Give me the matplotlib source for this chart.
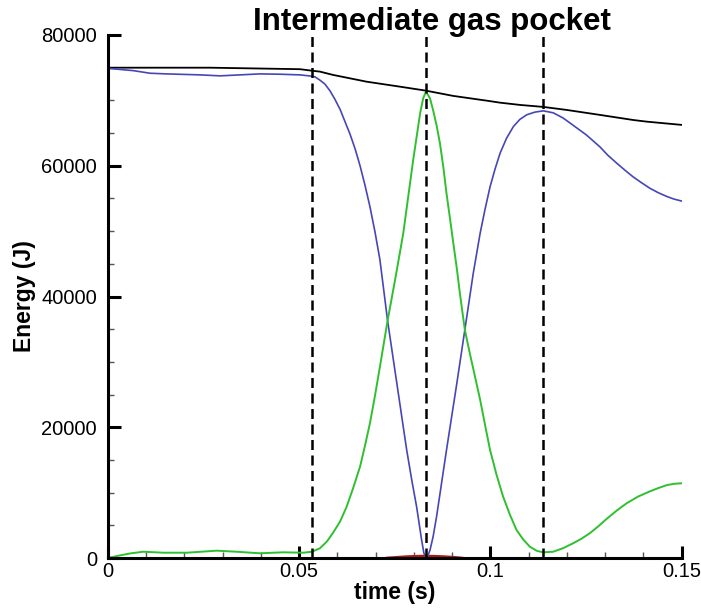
import numpy as np
import matplotlib
matplotlib.use("Agg")
import matplotlib.pyplot as plt
from matplotlib.ticker import MultipleLocator, FuncFormatter

plt.rcParams['font.family'] = ['Liberation Sans', 'DejaVu Sans']

# time (s) and energy (J) for each curve
t_total = [0, 0.0267, 0.0502, 0.0533, 0.0554, 0.0588, 0.0676, 0.0763, 0.0831,
           0.0903, 0.0991, 0.1025, 0.1078, 0.1138, 0.1199, 0.1286, 0.1373, 0.1408, 0.15]
e_total = [75000, 75000, 74770, 74540, 74400, 73900, 72860, 72100, 71490,
           70680, 69950, 69650, 69300, 69000, 68540, 67780, 67000, 66750, 66250]

t_blue = [0, 0.0066, 0.0110, 0.0153, 0.0241, 0.0293, 0.0345, 0.0397, 0.0450, 0.0502,
          0.0533, 0.0541, 0.0554, 0.0567, 0.0580, 0.0593, 0.0607, 0.0620, 0.0633,
          0.0646, 0.0659, 0.0672, 0.0685, 0.0698, 0.0711, 0.0731, 0.0755, 0.0781,
          0.0794, 0.0807, 0.0820, 0.0826, 0.0834, 0.0842, 0.0850, 0.0859, 0.0885,
          0.0912, 0.0933, 0.0955, 0.0973, 0.0986, 0.0999, 0.1012, 0.1025, 0.1042,
          0.1060, 0.1077, 0.1095, 0.1116, 0.1138, 0.1164, 0.1190, 0.1216, 0.1251,
          0.1286, 0.1307, 0.1330, 0.1352, 0.1373, 0.1395, 0.1417, 0.1438, 0.1461,
          0.1480, 0.1500]
e_blue = [74900, 74550, 74150, 74050, 73900, 73750, 73900, 74050, 74000, 73900,
          73700, 73600, 73100, 72500, 71500, 70200, 68600, 66700, 64800,
          62600, 60000, 57000, 53700, 49900, 45600, 36300, 26800, 16500,
          12000, 7800, 2750, 720, 0, 1220, 3260, 6300, 16500,
          26700, 34900, 43550, 49670, 53400, 56800, 59500, 61900, 64200,
          66000, 67100, 67800, 68200, 68400, 68100, 67300, 66200, 64700,
          62900, 61600, 60400, 59300, 58300, 57400, 56550, 55900, 55300,
          54900, 54600]

t_green = [0, 0.0023, 0.0058, 0.0092, 0.0145, 0.0206, 0.0284, 0.0336, 0.0397, 0.0458,
           0.0511, 0.0533, 0.0554, 0.0572, 0.0588, 0.0607, 0.0624, 0.0641, 0.0659,
           0.0672, 0.0685, 0.0698, 0.0711, 0.0731, 0.0752, 0.0772, 0.0785, 0.0798,
           0.0816, 0.0824, 0.0831, 0.0837, 0.0842, 0.0850, 0.0859, 0.0868, 0.0877,
           0.0885, 0.0894, 0.0903, 0.0912, 0.0920, 0.0933, 0.0946, 0.0959, 0.0973,
           0.0986, 0.0999, 0.1016, 0.1033, 0.1051, 0.1068, 0.1086, 0.1103, 0.1121,
           0.1138, 0.1164, 0.1190, 0.1216, 0.1238, 0.1260, 0.1282, 0.1304, 0.1330,
           0.1356, 0.1386, 0.1417, 0.1439, 0.1461, 0.1480, 0.1500]
e_green = [0, 300, 700, 960, 810, 810, 1120, 960, 720, 870,
           810, 960, 1480, 2500, 3820, 5600, 7850, 10700, 13970,
           17200, 20650, 24800, 29260, 36300, 43000, 49670, 55300, 60900,
           68000, 70300, 71300, 70800, 70300, 68500, 66200, 63400, 59700,
           55800, 52000, 48100, 44300, 40500, 34900, 31300, 27900, 24200,
           20300, 16500, 12700, 9400, 6600, 4300, 2800, 1730, 1100,
           870, 960, 1500, 2250, 2950, 3800, 4850, 6000, 7250,
           8370, 9400, 10200, 10700, 11150, 11350, 11430]

t_red = [0.073, 0.0755, 0.078, 0.0805, 0.083, 0.0855, 0.088, 0.0905, 0.0925]
e_red = [0, 100, 200, 260, 300, 260, 200, 100, 0]

# instants marked with dashed lines
t_marks = [0.0533, 0.0831, 0.1138]

fig = plt.figure(figsize=(7.01, 6.10), dpi=100)
ax = fig.add_axes([108 / 701, 52 / 610, (681.7 - 108) / 701, (558 - 35) / 610])

ax.plot(t_red, e_red, color='#b01818', lw=2.0)
ax.plot(t_total, e_total, color='black', lw=1.3)
ax.plot(t_blue, e_blue, color='#4646b8', lw=1.2)
ax.plot(t_green, e_green, color='#2ec02e', lw=1.4)

for tm in t_marks:
    ax.axvline(tm, color='black', lw=1.8, dashes=(4, 2.2))

ax.set_xlim(0, 0.15)
ax.set_ylim(0, 80000)

ax.spines['top'].set_visible(False)
ax.spines['right'].set_visible(False)
ax.spines['left'].set_linewidth(2.2)
ax.spines['bottom'].set_linewidth(2.2)

ax.xaxis.set_major_locator(MultipleLocator(0.05))
ax.xaxis.set_minor_locator(MultipleLocator(0.01))
ax.yaxis.set_major_locator(MultipleLocator(20000))
ax.yaxis.set_minor_locator(MultipleLocator(5000))
ax.xaxis.set_major_formatter(FuncFormatter(lambda v, p: f"{v:g}"))
ax.yaxis.set_major_formatter(FuncFormatter(lambda v, p: f"{v:.0f}"))

ax.tick_params(which='major', direction='in', length=9, width=2.2, labelsize=14.5)
ax.tick_params(which='minor', direction='in', length=4.5, width=1.0, color='#555555')
ax.tick_params(axis='y', which='major', pad=8)
ax.tick_params(axis='x', which='major', pad=3)

ax.set_xlabel('time (s)', fontsize=16.5, fontweight='bold', labelpad=0)
ax.set_ylabel('Energy (J)', fontsize=16.5, fontweight='bold', labelpad=4)

fig.text(432 / 701, 1 - 22 / 610, 'Intermediate gas pocket', fontsize=22.5,
         fontweight='bold', ha='center', va='center')

fig.savefig('out.png', dpi=100)
